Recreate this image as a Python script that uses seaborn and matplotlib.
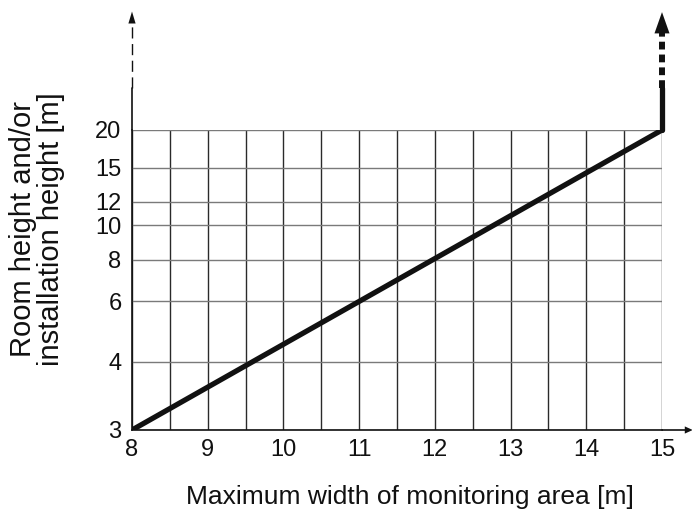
import numpy as np
import matplotlib
matplotlib.use("Agg")
import matplotlib.pyplot as plt
from matplotlib.patches import Polygon
import seaborn as sns

# Height axis of the nomogram: tick values and their spacing along the scale
height_ticks = [3, 4, 6, 8, 10, 12, 15, 20]
height_scale = [0, 68, 129, 170, 205, 228, 262, 300]

# x axis tick labels (grid every half metre)
width_ticks = [8, 9, 10, 11, 12, 13, 14, 15]

# Characteristic: max. monitoring width vs. room / installation height
width_m = [8, 15]
height_m = [3, 20]


def _fwd(v):
    v = np.asarray(v, dtype=float)
    out = np.interp(v, height_ticks, height_scale)
    lo_slope = (height_scale[1] - height_scale[0]) / (height_ticks[1] - height_ticks[0])
    hi_slope = (height_scale[-1] - height_scale[-2]) / (height_ticks[-1] - height_ticks[-2])
    out = np.where(v < height_ticks[0], height_scale[0] + (v - height_ticks[0]) * lo_slope, out)
    out = np.where(v > height_ticks[-1], height_scale[-1] + (v - height_ticks[-1]) * hi_slope, out)
    return out


def _inv(p):
    p = np.asarray(p, dtype=float)
    out = np.interp(p, height_scale, height_ticks)
    lo_slope = (height_ticks[1] - height_ticks[0]) / (height_scale[1] - height_scale[0])
    hi_slope = (height_ticks[-1] - height_ticks[-2]) / (height_scale[-1] - height_scale[-2])
    out = np.where(p < height_scale[0], height_ticks[0] + (p - height_scale[0]) * lo_slope, out)
    out = np.where(p > height_scale[-1], height_ticks[-1] + (p - height_scale[-1]) * hi_slope, out)
    return out


sns.set_theme(style="white")
plt.rcParams["font.family"] = ["Liberation Sans", "DejaVu Sans"]

W, H = 692, 515
fig = plt.figure(figsize=(W / 100, H / 100), dpi=100)
fig.patch.set_facecolor("white")
ax = fig.add_axes([132 / W, (H - 430) / H, 530 / W, 300 / H])
ax.set_facecolor("white")

ax.set_yscale("function", functions=(_fwd, _inv))
ax.set_xlim(8, 15)
ax.set_ylim(3, 20)

# grid every 0.5 m across, at each labelled height up
half_steps = np.arange(width_ticks[0], width_ticks[-1] + 0.25, 0.5)
ax.set_xticks(half_steps)
ax.set_xticklabels([f"{int(v)}" if v in width_ticks else "" for v in half_steps])
ax.set_yticks(height_ticks)
ax.set_yticklabels([str(v) for v in height_ticks])
ax.yaxis.set_minor_locator(matplotlib.ticker.NullLocator())

ax.xaxis.grid(True, color="#2a2a2a", lw=1.0)
ax.yaxis.grid(True, color="#7a7a7a", lw=1.0)
ax.tick_params(axis="x", length=5.5, width=1.0, color="#2a2a2a", direction="out",
               pad=1.0, labelsize=17, labelcolor="#111111")
ax.tick_params(axis="y", length=6.5, width=1.0, color="#7a7a7a", direction="out",
               pad=1.0, labelsize=17, labelcolor="#111111")

for side in ("top", "right"):
    ax.spines[side].set_visible(False)
for side in ("left", "bottom"):
    ax.spines[side].set_color("#111111")
    ax.spines[side].set_linewidth(1.2)

# the characteristic line
sns.lineplot(x=width_m, y=height_m, ax=ax, color="#111111", lw=3.8,
             solid_capstyle="round", legend=False)

ta = ax.transAxes
dark = "#111111"

# continuation of the characteristic above 20 m
ax.plot([1, 1], [1, 1.14], transform=ta, color=dark, lw=3.8,
        solid_capstyle="round", clip_on=False)
ax.plot([1, 1], [1.14, 1.325], transform=ta, color=dark, lw=4.3,
        linestyle=(0, (1.3, 0.85)), dash_capstyle="butt", clip_on=False)
ax.add_patch(Polygon([[1 - 0.0142, 1.322], [1 + 0.0142, 1.322], [1, 1.393]],
                     closed=True, transform=ta, color=dark, clip_on=False, lw=0))

# y axis continuation with arrow
ax.plot([0, 0], [1, 1.14], transform=ta, color=dark, lw=1.2, clip_on=False)
ax.plot([0, 0], [1.14, 1.36], transform=ta, color=dark, lw=1.0,
        linestyle=(0, (8, 4)), clip_on=False)
ax.add_patch(Polygon([[-0.0068, 1.355], [0.0068, 1.355], [0, 1.395]],
                     closed=True, transform=ta, color=dark, clip_on=False, lw=0))

# x axis continuation with arrow
ax.plot([1, 1.047], [0, 0], transform=ta, color=dark, lw=1.2, clip_on=False)
ax.add_patch(Polygon([[1.043, -0.012], [1.043, 0.012], [1.058, 0]],
                     closed=True, transform=ta, color=dark, clip_on=False, lw=0))

fig.text(410 / W, 1 - 497 / H, "Maximum width of monitoring area [m]",
         ha="center", va="center", fontsize=19, color="#111111")
fig.text(37 / W, 1 - 229 / H, "Room height and/or\ninstallation height [m]",
         rotation=90, ha="center", va="center", multialignment="center",
         fontsize=21, color="#111111", linespacing=1.0)

fig.savefig("out.png", dpi=100, facecolor="white")
